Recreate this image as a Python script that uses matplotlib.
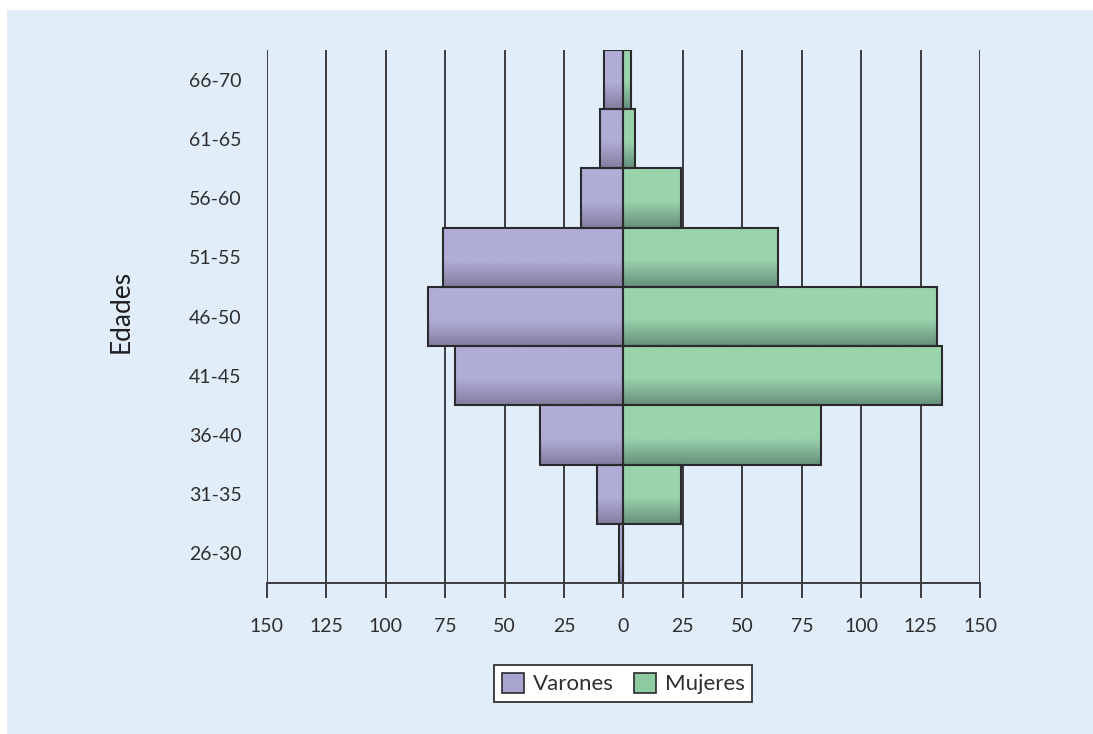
import numpy as np
import matplotlib
matplotlib.use("Agg")
import matplotlib.pyplot as plt
from matplotlib.colors import LinearSegmentedColormap
from matplotlib.patches import Patch

plt.rcParams['font.family'] = ['Lato', 'DejaVu Sans']

# Age groups and counts per sex
edades = ["26-30", "31-35", "36-40", "41-45", "46-50", "51-55", "56-60", "61-65", "66-70"]
varones = [2, 11, 35, 71, 82, 76, 18, 10, 8]
mujeres = [0, 24, 83, 134, 132, 65, 24, 5, 3]
ticks = [-150, -125, -100, -75, -50, -25, 0, 25, 50, 75, 100, 125, 150]

BG = "#E1EEF9"
EDGE = "#2b2b2d"
GRID = "#3c3c40"
TXT = "#2e2e30"

fig = plt.figure(figsize=(10.93, 7.34), dpi=100, facecolor="white")
# light-blue panel behind everything
fig.patches.append(plt.Rectangle((7 / 1093, 0), 1, 1 - 10 / 734, transform=fig.transFigure,
                                 facecolor=BG, edgecolor="none", zorder=-10))

ax = fig.add_axes([266.7 / 1093, 1 - 583 / 734, (980.2 - 266.7) / 1093, (583 - 50) / 734])
ax.set_facecolor("none")

y = np.arange(len(edades))

# vertical gradient: light on top, darker at the bottom
def grad_cmap(top, bottom):
    return LinearSegmentedColormap.from_list("g", [(0.0, bottom), (0.45, top), (1.0, top)])

cm_v = grad_cmap("#B0ADD8", "#837D9F")
cm_m = grad_cmap("#9AD4AC", "#668F7C")
g = np.linspace(0, 1, 256).reshape(-1, 1)

def draw_bars(values, sign, cmap):
    bars = ax.barh(y, [sign * v for v in values], height=1.0, left=0,
                   facecolor="none", edgecolor=EDGE, linewidth=1.5, zorder=3)
    for b in bars:
        w = b.get_width()
        if w == 0:
            continue
        x0, y0 = b.get_x(), b.get_y()
        x1, y1 = x0 + w, y0 + b.get_height()
        im = ax.imshow(g, cmap=cmap, aspect="auto", origin="lower",
                       extent=(min(x0, x1), max(x0, x1), y0, y1), zorder=2)
        im.set_clip_path(b)
    return bars

draw_bars(varones, -1, cm_v)
draw_bars(mujeres, 1, cm_m)

ax.set_xlim(-150, 150)
ax.set_ylim(-0.5, len(edades) - 0.5)

# vertical grid lines at every tick
for t in ticks:
    ax.axvline(t, color=GRID, linewidth=1.4, zorder=1)

for s in ["top", "right", "left"]:
    ax.spines[s].set_visible(False)
ax.spines["bottom"].set_color(GRID)
ax.spines["bottom"].set_linewidth(1.4)
ax.spines["bottom"].set_zorder(4)

ax.set_xticks(ticks)
ax.set_xticklabels([str(abs(t)) for t in ticks], fontsize=14, color=TXT)
ax.tick_params(axis="x", length=11, width=1.4, color=GRID, pad=14)
ax.set_yticks(y)
ax.set_yticklabels(edades, fontsize=14, color=TXT)
ax.tick_params(axis="y", length=0, pad=18)

ax.set_ylabel("Edades", fontsize=19, color="#1e1e20")
ax.yaxis.set_label_coords(-0.186, 0.51)

handles = [Patch(facecolor="#A8A4D0", edgecolor=EDGE, linewidth=1.2, label="Varones"),
           Patch(facecolor="#8FCBA2", edgecolor=EDGE, linewidth=1.2, label="Mujeres")]
leg = fig.legend(handles=handles, loc="center", bbox_to_anchor=(623 / 1093, 1 - 683.5 / 734),
                 ncol=2, fontsize=16, frameon=True, fancybox=False, framealpha=1,
                 edgecolor="#333333", handlelength=1.0, handleheight=1.0,
                 handletextpad=0.4, columnspacing=0.9, borderpad=0.35, borderaxespad=0)
leg.get_frame().set_linewidth(1.3)
for t in leg.get_texts():
    t.set_color(TXT)

fig.savefig("out.png", dpi=100, facecolor=fig.get_facecolor())
